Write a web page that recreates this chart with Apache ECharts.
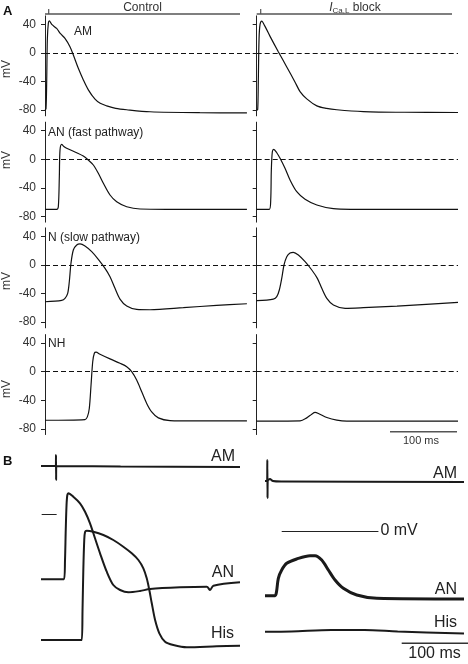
<!DOCTYPE html>
<html><head><meta charset="utf-8">
<script src="https://cdn.jsdelivr.net/npm/echarts@6/dist/echarts.min.js"></script>
<style>html,body{margin:0;padding:0;background:#fff}#c{width:468px;height:664px}</style>
</head><body><div id="c"></div>
<script>
// ---------- Panel A: simulated action potentials, [time (ms), mV] ----------
const amControl = [[0,-80],[1.5,-78],[2.5,-40],[3.5,20],[5,42],[6.4,45],[10,40],[17.3,34.4],[23,27],[29.7,20.5],[37.1,8.8],[42.1,-2.8],[49.5,-21.4],[57,-37.7],[64.4,-51.6],[74.3,-64.7],[82,-70.5],[91.6,-74],[105,-77.5],[121.4,-79.5],[156,-82.3],[230,-83.6],[300,-83.8]];
const amBlock   = [[0,-80],[1.5,-79],[2.4,-40],[3.5,20],[5,40],[7.5,44.6],[12,38],[19.9,23.3],[32.2,1.8],[44.8,-19.5],[57.2,-40.9],[64.6,-54],[74.6,-64.2],[89.6,-74],[104,-77.5],[119.4,-79.5],[159,-82],[220,-83],[300,-83.3]];
const anControl = [[0,-70],[17.4,-70],[19.8,-66.4],[21.3,-24],[22.3,13],[24.8,21],[28,18],[32.2,15.4],[47.1,9.2],[56.9,4.6],[64.3,-1],[71.8,-8],[79.2,-19.6],[86.7,-33.6],[96.6,-50],[106.5,-59.4],[121.4,-66.4],[141.2,-69.6],[180,-70],[300,-70]];
const anBlock   = [[0,-70],[18.8,-70],[20.9,-57],[21.8,-15],[23.3,10.6],[25.4,14],[29.9,9.2],[34.8,1.4],[42.2,-12.6],[49.7,-29],[59.7,-45.4],[72.1,-56],[89.6,-64],[114.3,-69.2],[140,-70],[300,-70]];
const nControl  = [[0,-51.5],[24.8,-49.5],[29.7,-46.7],[33.7,-39.7],[36.1,-23.4],[38.6,2.4],[42.1,21],[47.1,28],[52,29.5],[59.4,26.6],[69.4,18.7],[79.2,8],[89.2,-4.7],[96.6,-16.4],[104,-32.7],[111.4,-47.7],[121.4,-57.5],[136.2,-62.2],[156,-62.7],[205.5,-59.8],[255,-56.5],[300,-54.3]];
const nBlock    = [[0,-50],[24.8,-47.7],[29.9,-44.4],[33.7,-35],[37.3,-18.7],[40.7,0],[44.8,11.6],[49.7,16.8],[54.6,17.8],[62.1,14],[72.1,4.6],[82.1,-7],[90.4,-18.7],[97,-32.7],[104.5,-46.7],[114.3,-56],[131.8,-60.7],[159.1,-59.8],[209,-57.5],[258.7,-54.7],[300,-52.3]];
const nhControl = [[0,-68],[59.4,-67],[62.9,-63.3],[65.8,-51.5],[68.4,-18.7],[70.9,14],[73.3,25.9],[75.8,27.3],[81.7,24.5],[96.6,17.9],[111.4,11.8],[121.4,7],[128.8,0],[136.2,-11.7],[143.7,-28.1],[151.1,-44.4],[158.5,-56.3],[168.4,-64.7],[185.7,-68.4],[230,-68.9],[300,-69]];
const nhBlock   = [[0,-69.3],[64.6,-68.9],[74.6,-64.7],[82.1,-59.5],[87,-57.1],[92,-58.5],[104.5,-64.1],[119.4,-67.9],[134.3,-69.3],[300,-69.3]];
const rowLabels = ['AM', 'AN (fast pathway)', 'N (slow pathway)', 'NH'];
const yTicks = [-80, -40, 0, 40];

// ---------- Panel B: recordings, [time (ms), display mV offset] ----------
const bAmControl  = [[0,48],[22.4,48],[22.6,59],[22.8,34],[23,48],[120,47.5],[300,47]];
const bAnControl  = [[0,-65.3],[34.7,-65.3],[36.2,-46],[37.3,-16],[38.5,9],[39.7,19],[41.2,20.7],[48.7,17.3],[58.8,10.7],[66.4,2.3],[73.9,-9.3],[81.4,-24.3],[89,-39.3],[99.1,-57.7],[109,-71],[119.2,-76],[131.7,-78.3],[149.3,-77],[164.4,-75],[209.7,-73.3],[249.9,-72.7],[254.9,-76],[259.9,-71.7],[300,-68.3]];
const bHisControl = [[0,-126],[61.4,-126],[62.6,-96],[63.8,-56],[65.2,-26],[66.4,-18],[68.9,-16.7],[78.9,-17.7],[94,-21],[109,-26],[124.1,-32.7],[136.8,-39.3],[146.8,-46],[154.3,-54.3],[159.4,-64.3],[163.3,-76],[167,-89.3],[172,-106],[178.4,-119.3],[187,-127.7],[199.5,-131],[219.8,-133.3],[265,-132.3],[300,-131.7]];
const bAmBlock    = [[0,50],[3.2,50],[3.5,71],[3.8,33],[4.1,50],[7.5,52],[12,50],[25,49.5],[300,49]];
const bAnBlock    = [[0,-64.7],[15.1,-64.7],[17.3,-61],[20.1,-47.3],[25.2,-39],[32.7,-32.3],[47.8,-28],[67.9,-24.7],[75.4,-24.7],[85.5,-29],[95.5,-39],[105.6,-49],[118.1,-57.3],[138.3,-64],[168.5,-67.3],[300,-68]];
const bHisBlock   = [[0,-100.7],[40,-100.5],[100,-99],[150,-99],[200,-100.5],[300,-102.5]];

const FONT = "'Liberation Sans', Arial, Helvetica, sans-serif";
const INK = '#111';
const PX = 0.714;                       // px per mV in panel A
const rowZero = [53, 159.3, 265, 371.7];
const traces = [[amControl, amBlock],[anControl, anBlock],[nControl, nBlock],[nhControl, nhBlock]];

const grid = [], xAxis = [], yAxis = [], series = [];
traces.forEach((pair, r) => {
  pair.forEach((data, c) => {
    const i = grid.length;
    grid.push({ left: c === 0 ? 45 : 256.7, width: c === 0 ? 210 : 201.3,
                top: rowZero[r] - 52 * PX, height: 140 * PX });
    xAxis.push({ gridIndex: i, type: 'value', min: 0, max: c === 0 ? 312 : 300, show: false });
    yAxis.push({ gridIndex: i, type: 'value', min: -88, max: 52,
      axisLine: { show: true, lineStyle: { color: '#222', width: 1 } },
      axisTick: { show: true, length: 4, customValues: yTicks, lineStyle: { color: '#222', width: 1 } },
      axisLabel: { show: c === 0, customValues: yTicks, fontSize: 12, color: '#333', margin: 9, fontFamily: FONT },
      splitLine: { show: false } });
    series.push({ type: 'line', xAxisIndex: i, yAxisIndex: i, data: data, showSymbol: false,
      smooth: 0.3, lineStyle: { color: INK, width: 1.2 }, silent: true,
      markLine: { silent: true, symbol: 'none', label: { show: false },
        lineStyle: { type: [5, 3], color: INK, width: 1 }, data: [{ yAxis: 0 }] } });
  });
});

// Panel B grids
const bGrids = [
  { left: 41, width: 199, min: -146, max: 66, traces: [[bAmControl,2],[bAnControl,2],[bHisControl,2]],
    zero: [[{ coord: [1, 0] }, { coord: [23.6, 0] }]], zeroLabel: false },
  { left: 265, width: 199, min: -129, max: 83, traces: [[bAmBlock,2],[bAnBlock,3],[bHisBlock,2]],
    zero: [[{ coord: [25.2, 0] }, { coord: [171, 0] }]], zeroLabel: true }
];
bGrids.forEach(g => {
  const i = grid.length;
  grid.push({ left: g.left, width: g.width, top: 448, height: 212 });
  xAxis.push({ gridIndex: i, type: 'value', min: 0, max: 300, show: false });
  yAxis.push({ gridIndex: i, type: 'value', min: g.min, max: g.max, show: false });
  g.traces.forEach(([data, w], k) => {
    const s = { type: 'line', xAxisIndex: i, yAxisIndex: i, data: data, showSymbol: false,
      smooth: 0.3, lineStyle: { color: '#1a1a1a', width: w }, silent: true };
    if (k === 0) {
      s.markLine = { silent: true, symbol: 'none',
        lineStyle: { type: 'solid', color: '#222', width: 1 },
        label: { show: g.zeroLabel, position: 'end', formatter: '0 mV', fontSize: 16, color: '#222', fontFamily: FONT, distance: 2 },
        data: g.zero };
    }
    series.push(s);
  });
});

const txt = (x, y, text, extra) => ({ type: 'text', x: x, y: y, silent: true,
  style: Object.assign({ text: text, font: '12px ' + FONT, fill: '#222', textVerticalAlign: 'middle' }, extra || {}) });
const ln = (x1, y1, x2, y2, color, w) => ({ type: 'line', silent: true,
  shape: { x1: x1, y1: y1, x2: x2, y2: y2 }, style: { stroke: color, lineWidth: w } });

const graphic = [
  txt(3, 11, 'A', { font: 'bold 13px ' + FONT, fill: '#111' }),
  txt(3, 461, 'B', { font: 'bold 13px ' + FONT, fill: '#111' }),
  txt(142.5, 7.5, 'Control', { textAlign: 'center', fill: '#333' }),
  { type: 'text', x: 355, y: 7.5, silent: true, style: {
      text: '{i|I}{s|Ca,L}{n| block}', textAlign: 'center', textVerticalAlign: 'middle', fill: '#333',
      font: '12px ' + FONT,
      rich: { i: { fontStyle: 'italic', fontSize: 12, fontFamily: FONT, lineHeight: 14 },
              s: { fontSize: 8, fontFamily: FONT, verticalAlign: 'bottom', lineHeight: 8 },
              n: { fontSize: 12, fontFamily: FONT, lineHeight: 14 } } } },
  ln(45, 14, 240, 14, '#555', 1.5), ln(48.7, 9, 48.7, 14, '#555', 1.2),
  ln(256.7, 14, 452, 14, '#555', 1.5), ln(260.7, 9, 260.7, 14, '#555', 1.2),
  txt(74, 32, rowLabels[0]), txt(48, 132.5, rowLabels[1]), txt(48, 238, rowLabels[2]), txt(48, 343.5, rowLabels[3]),
  ln(390, 431.7, 457, 431.7, '#555', 1.5),
  txt(421, 440.5, '100 ms', { textAlign: 'center', font: '11px ' + FONT, fill: '#333' }),
  txt(235, 456.5, 'AM', { textAlign: 'right', font: '16px ' + FONT }),
  txt(234, 572.5, 'AN', { textAlign: 'right', font: '16px ' + FONT }),
  txt(234, 634, 'His', { textAlign: 'right', font: '16px ' + FONT }),
  txt(457, 473.5, 'AM', { textAlign: 'right', font: '16px ' + FONT }),
  txt(457, 590, 'AN', { textAlign: 'right', font: '16px ' + FONT }),
  txt(457, 623, 'His', { textAlign: 'right', font: '16px ' + FONT }),
  ln(401.7, 643.3, 468, 643.3, '#333', 1.5),
  txt(434.5, 654, '100 ms', { textAlign: 'center', font: '16px ' + FONT })
];
[69, 160, 281, 389].forEach(y => graphic.push(
  { type: 'text', x: 7, y: y, rotation: Math.PI / 2, silent: true,
    style: { text: 'mV', font: '12px ' + FONT, fill: '#333', textAlign: 'center', textVerticalAlign: 'middle' } }));

const chart = echarts.init(document.getElementById('c'), null, { renderer: 'canvas' });
chart.setOption({ animation: false, backgroundColor: '#fff', grid, xAxis, yAxis, series, graphic });
</script></body></html>
